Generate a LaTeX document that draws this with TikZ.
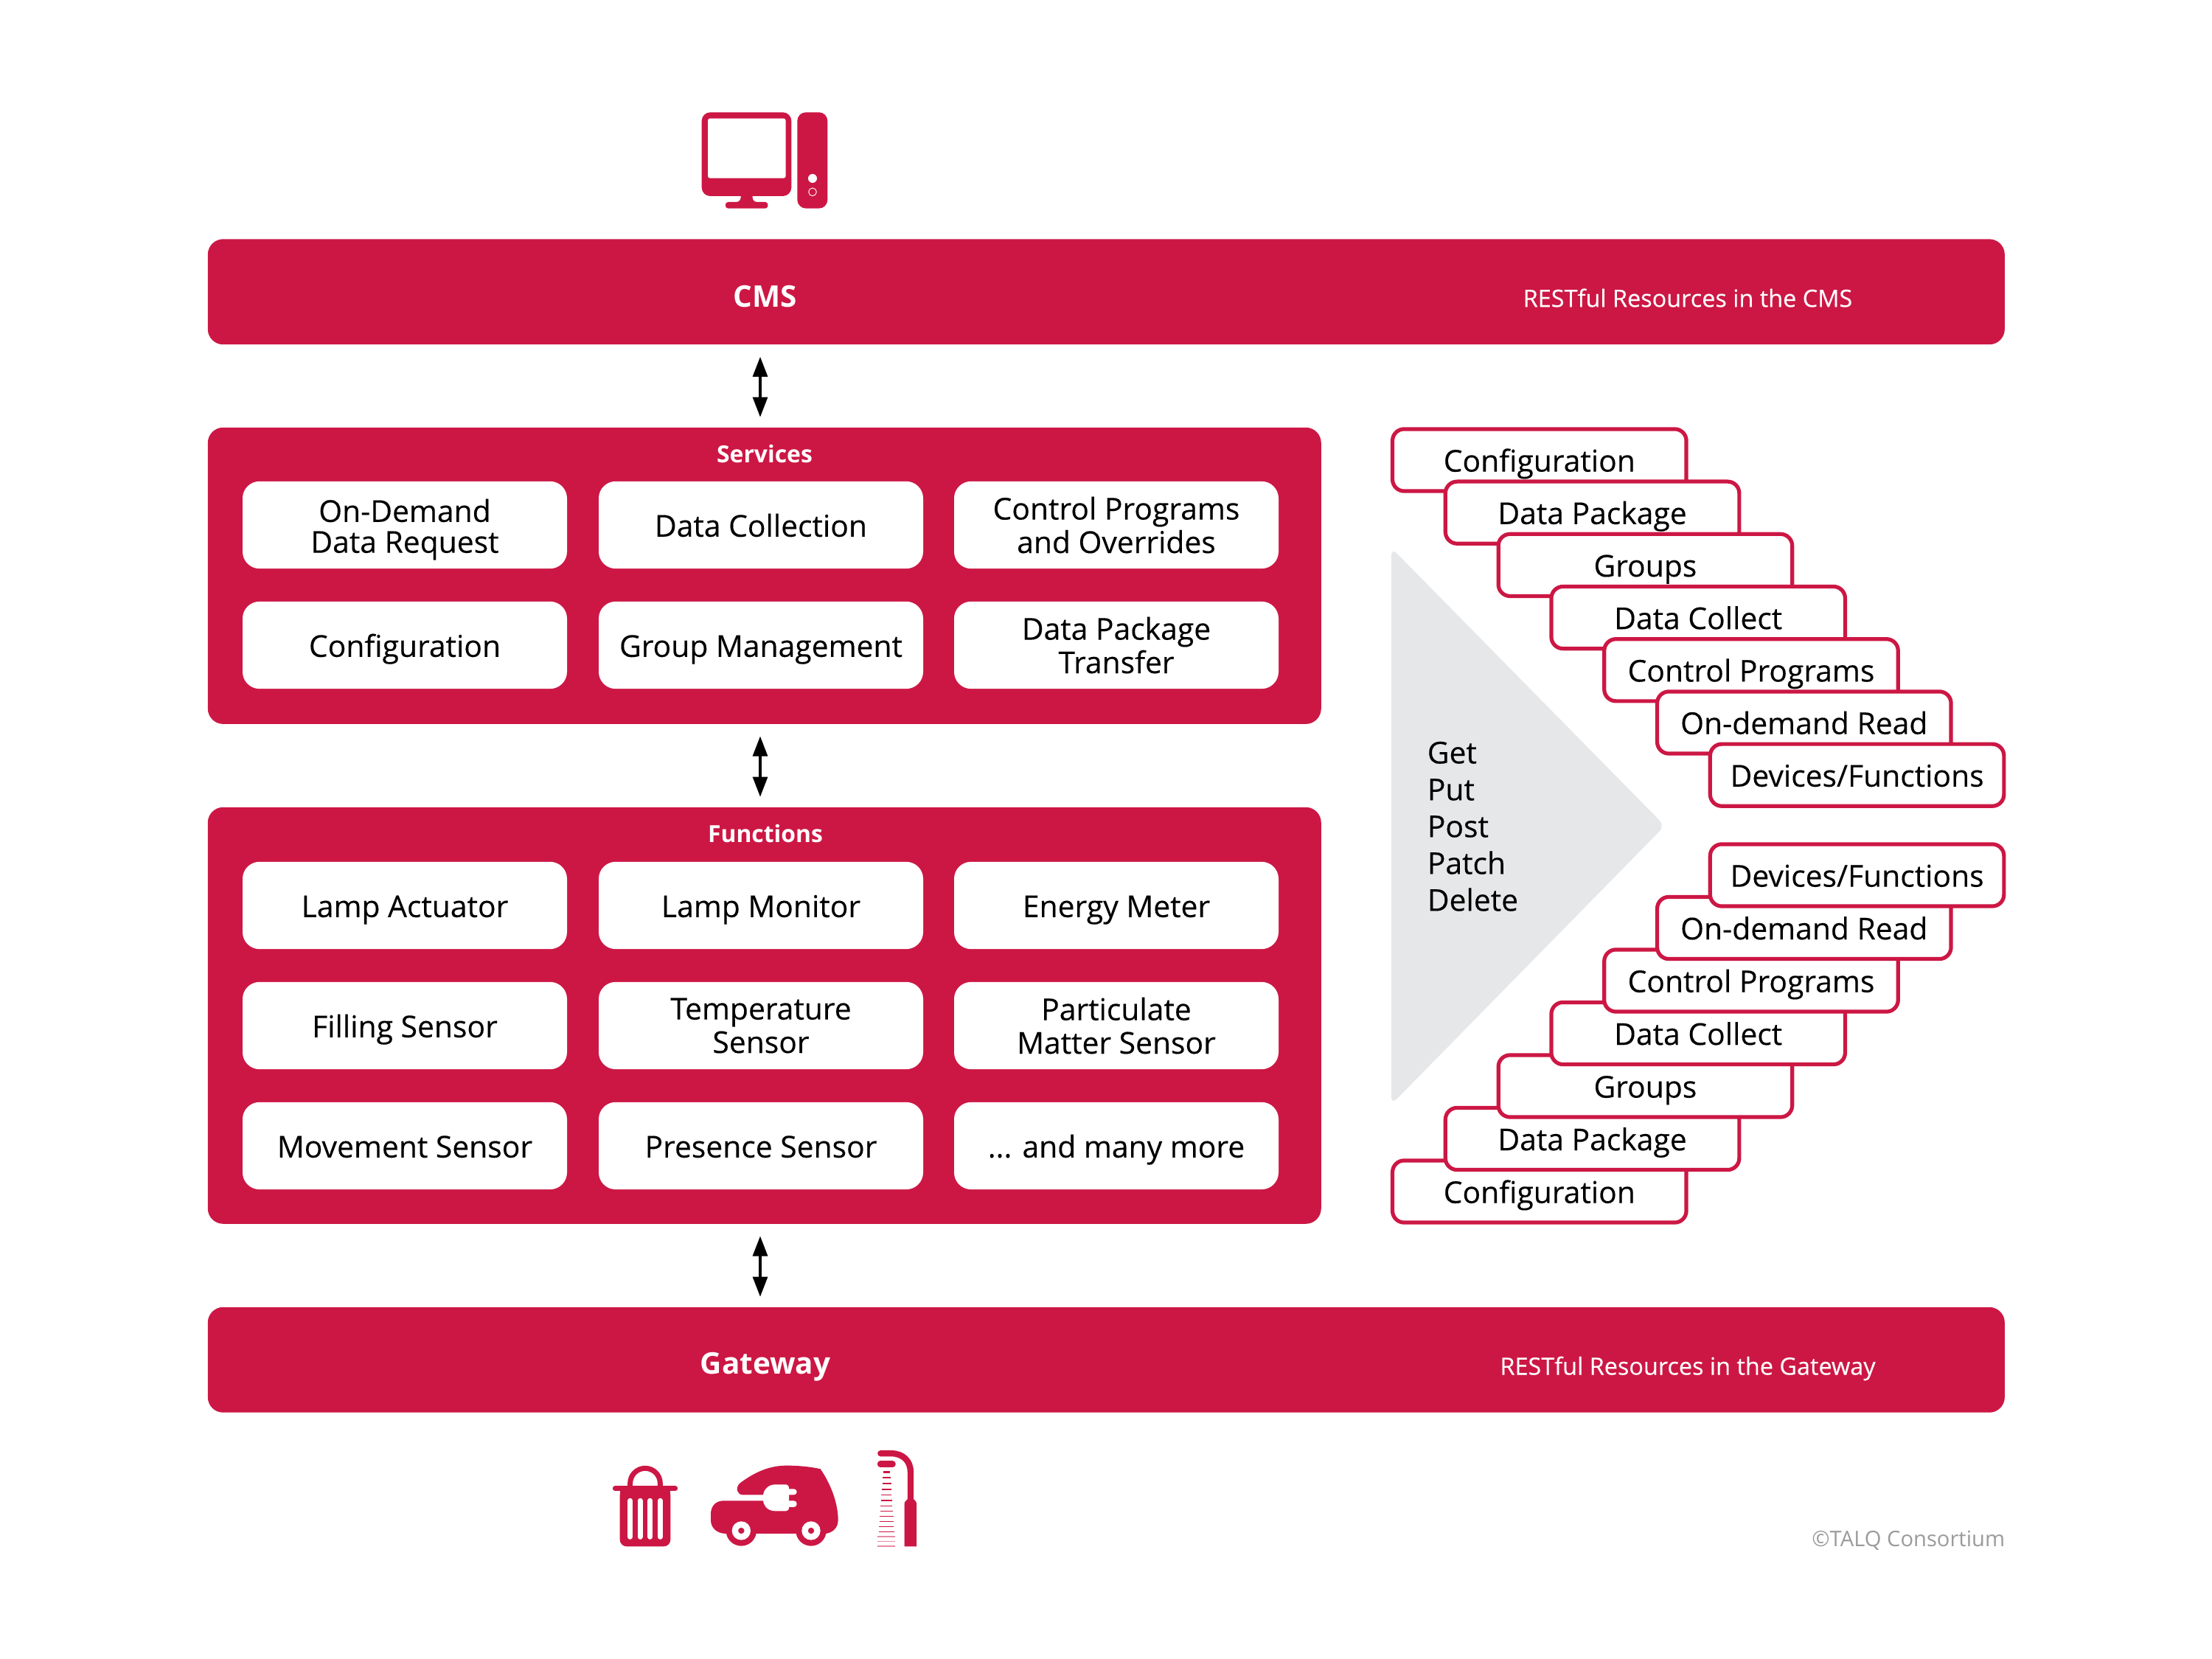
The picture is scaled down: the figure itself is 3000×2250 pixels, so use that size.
\documentclass[tikz,border=0pt]{standalone}
\usepackage{fontspec}
\setmainfont{Open Sans}
\newfontfamily\bodyf[FakeBold=0.25]{Open Sans}
\usetikzlibrary{arrows.meta,calc}
\definecolor{talq}{HTML}{CC1744}
\definecolor{tri}{HTML}{E6E7E8}
\definecolor{copy}{HTML}{9B9B9B}
\tikzset{
  bar/.style={fill=talq,draw=none,rounded corners=5pt,anchor=north west,inner sep=0pt},
  whitebox/.style={fill=white,draw=none,rounded corners=5.5pt,minimum width=105.6pt,minimum height=28.4pt,inner sep=0pt,align=center,font=\bodyf\fontsize{9.8}{10.9pt}\selectfont,text=black},
  oneline/.style={whitebox,text height=10.2pt,text depth=2.6pt},
  tabbox/.style={fill=white,draw=talq,line width=1.25pt,rounded corners=3.8pt,minimum width=95.65pt,minimum height=20.2pt,inner sep=0pt,font=\bodyf\fontsize{9.8}{10.9pt}\selectfont,text=black,text height=10.1pt,text depth=2.6pt},
  barhead/.style={text=white,font=\bfseries\fontsize{9.7}{13}\selectfont,inner sep=0pt},
  smallhead/.style={text=white,font=\bfseries\fontsize{7.65}{10}\selectfont,inner sep=0pt},
  barnote/.style={text=white,font=\bodyf\fontsize{7.78}{10}\selectfont,inner sep=0pt},
  dbl/.style={line width=0.75pt,{Triangle[length=6.5pt,width=4.8pt]}-{Triangle[length=6.5pt,width=4.8pt]},shorten <=3.8pt,shorten >=3.2pt},
  iconfill/.style={fill=talq,draw=none},
  iconline/.style={draw=talq,line cap=round},
}
\begin{document}
\begin{tikzpicture}[x=0.24pt,y=-0.24pt]
\useasboundingbox (0,0) rectangle (3000,2250);
% bars
\node[bar,minimum width=584.9pt,minimum height=34.3pt] (cms) at (281,323.5) {};
\node[bar,minimum width=362.4pt,minimum height=96.5pt] (services) at (281,579) {};
\node[bar,minimum width=362.4pt,minimum height=135.6pt] (functions) at (281,1094) {};
\node[bar,minimum width=584.9pt,minimum height=34.3pt] (gateway) at (281,1772) {};
\node[barhead] (cmst) at (1038,402) {CMS};
\node[barnote] (cmsn) at (2289,404) {RESTful Resources in the CMS};
\node[barhead] (gwt) at (1038,1854) {Gateway};
\node[barnote] (gwn) at (2289,1856) {RESTful Resources in the Gateway};
\node[smallhead] (svt) at (1037,616) {Services};
\node[smallhead] (fnt) at (1038,1131) {Functions};
% boxes
\node[whitebox] (s1) at (549,712) {\rule{0pt}{10.4pt}On-Demand\\[-0.85pt]Data Request};
\node[oneline] (s2) at (1032,712) {Data Collection};
\node[whitebox] (s3) at (1514,712) {Control Programs\\and Overrides};
\node[oneline] (s4) at (549,875) {Configuration};
\node[oneline] (s5) at (1032,875) {Group Management};
\node[whitebox] (s6) at (1514,875) {Data Package\\Transfer};
\node[oneline] (f1) at (549,1228) {Lamp Actuator};
\node[oneline] (f2) at (1032,1228) {Lamp Monitor};
\node[oneline] (f3) at (1514,1228) {Energy Meter};
\node[oneline] (f4) at (549,1391) {Filling Sensor};
\node[whitebox] (f5) at (1032,1391) {Temperature\\Sensor};
\node[whitebox] (f6) at (1514,1391) {Particulate\\Matter Sensor};
\node[oneline] (f7) at (549,1554) {Movement Sensor};
\node[oneline] (f8) at (1032,1554) {Presence Sensor};
\node[oneline] (f9) at (1514,1554) {... and many more};
% arrows
\coordinate (ax) at (1031,0);
\draw[dbl] (cms.south -| ax) -- (services.north -| ax);
\draw[dbl] (services.south -| ax) -- (functions.north -| ax);
\draw[dbl] (functions.south -| ax) -- (gateway.north -| ax);
% triangle
\fill[tri,rounded corners=2.5pt] (1887,743) -- (2258,1120) -- (1887,1498) -- cycle;
\node[anchor=north west,inner sep=0pt,align=left,font=\bodyf\fontsize{9.8}{12pt}\selectfont] (verbs) at (1935,1005) {Get\\Put\\Post\\Patch\\Delete};
% stacks
\foreach \lab [count=\i from 0] in {Configuration,Data Package,Groups,Data Collect,Control Programs,On-demand Read,Devices/Functions}{
  \node[tabbox] (u\i) at ({2087.8+71.8*\i},{624+71.2*\i}) {\lab};
}
\foreach \lab [count=\i from 0] in {Configuration,Data Package,Groups,Data Collect,Control Programs,On-demand Read,Devices/Functions}{
  \node[tabbox] (l\i) at ({2087.8+71.8*\i},{1616-71.5*\i}) {\lab};
}
\node[anchor=east,inner sep=0pt,text=copy,font=\fontsize{7}{10}\selectfont] (cr) at (2720,2089) {©TALQ Consortium};
% computer icon
\begin{scope}[shift={(900,120)},x=0.08pt,y=-0.08pt]
  \fill[iconfill,rounded corners=2.8pt] (155,97) rectangle (520,438);
  \fill[iconfill] (313,430) .. controls (318,450) and (310,462) .. (295,462) -- (262,462) .. controls (248,462) and (248,488) .. (262,488) -- (414,488) .. controls (428,488) and (428,462) .. (414,462) -- (381,462) .. controls (366,462) and (358,450) .. (363,430) -- cycle;
  \fill[white,rounded corners=0.7pt] (180,122) rectangle (497,365);
  \fill[iconfill,rounded corners=2.8pt] (544,97) rectangle (667,488);
  \fill[white] (606,366) circle (18);
  \draw[white,line width=0.22pt] (606,421) circle (16);
\end{scope}
% trash icon
\begin{scope}[shift={(800,1950)},x=0.08pt,y=-0.08pt]
  \draw[iconline,line width=1.68pt,line cap=butt] (164,206) -- (164,185) arc[start angle=180,end angle=0,x radius=61,y radius=-61] -- (286,206);
  \draw[iconline,line width=1.68pt] (103,206.5) -- (347,206.5);
  \fill[iconfill,rounded corners=2.2pt] (122,206) -- (122,442) -- (328,442) -- (328,206) -- cycle;
  \fill[iconfill] (122,206) rectangle (328,230);
  \foreach \sx in {164,204.5,245.5,286.5}{
    \draw[white,line width=1.68pt,line cap=round] (\sx,256) -- (\sx,403);
  }
\end{scope}
% car icon
\begin{scope}[shift={(800,1950)},x=0.08pt,y=-0.08pt]
  \fill[iconfill] (705,256) -- (545,256) .. controls (510,256) and (492,280) .. (492,310) -- (492,335) .. controls (492,365) and (515,390) .. (555,390) -- (960,390) .. controls (990,385) and (1010,365) .. (1010,335) .. controls (1010,260) and (975,180) .. (938,127) .. controls (900,118) and (850,113) .. (800,113) .. controls (730,113) and (670,140) .. (610,185) .. controls (590,205) and (600,232) .. (622,232) -- (705,232) -- cycle;
  \fill[iconfill] (616,378) circle (62);
  \fill[iconfill] (900,378) circle (62);
  \fill[white] (705,232) .. controls (710,205) and (730,190) .. (755,190) -- (798,190) .. controls (806,190) and (810,196) .. (810,208) -- (830,208) .. controls (846,208) and (846,232) .. (830,232) -- (810,232) -- (810,256) -- (830,256) .. controls (846,256) and (846,282) .. (830,282) -- (810,282) .. controls (810,292) and (806,298) .. (798,298) -- (755,298) .. controls (730,298) and (710,285) .. (705,256) -- cycle;
  \fill[white] (616,378) circle (38);
  \fill[white] (900,378) circle (38);
  \fill[iconfill] (616,378) circle (12.5);
  \fill[iconfill] (900,378) circle (12.5);
\end{scope}
% street light icon
\begin{scope}[shift={(800,1950)},x=0.08pt,y=-0.08pt]
  \draw[iconline,line width=2pt,line cap=butt] (1183,63.5) -- (1225,63.5) .. controls (1275,63.5) and (1305,95) .. (1305,140) -- (1305,255);
  \fill[iconfill] (1183,63.5) circle (12.5);
  \fill[iconfill] (1280,442) -- (1280,268) .. controls (1280,255) and (1292,255) .. (1294,248) -- (1316,248) .. controls (1318,255) and (1329,255) .. (1329,268) -- (1329,442) -- cycle;
  \draw[iconline,line width=2pt] (1182,107) -- (1232,107);
  \foreach \ya/\xa/\xb/\w in {140/1193/1221/0.56,163/1191/1224/0.42,187/1190/1226/0.42,210/1187/1227/0.4,233/1186/1228/0.34,255/1185/1230/0.34,277/1183/1231/0.28,298/1182/1233/0.26,320/1179/1235/0.26,341/1179/1236/0.24,361/1177/1237/0.22,382/1175/1239/0.2}{
    \draw[draw=talq,line width=\w pt] (\xa,\ya) -- (\xb,\ya);
  }
  \foreach \ya in {402,422,441}{
    \draw[draw=talq!50,line width=0.28pt] (1171,\ya) -- (1242,\ya);
  }
\end{scope}
\end{tikzpicture}
\end{document}
